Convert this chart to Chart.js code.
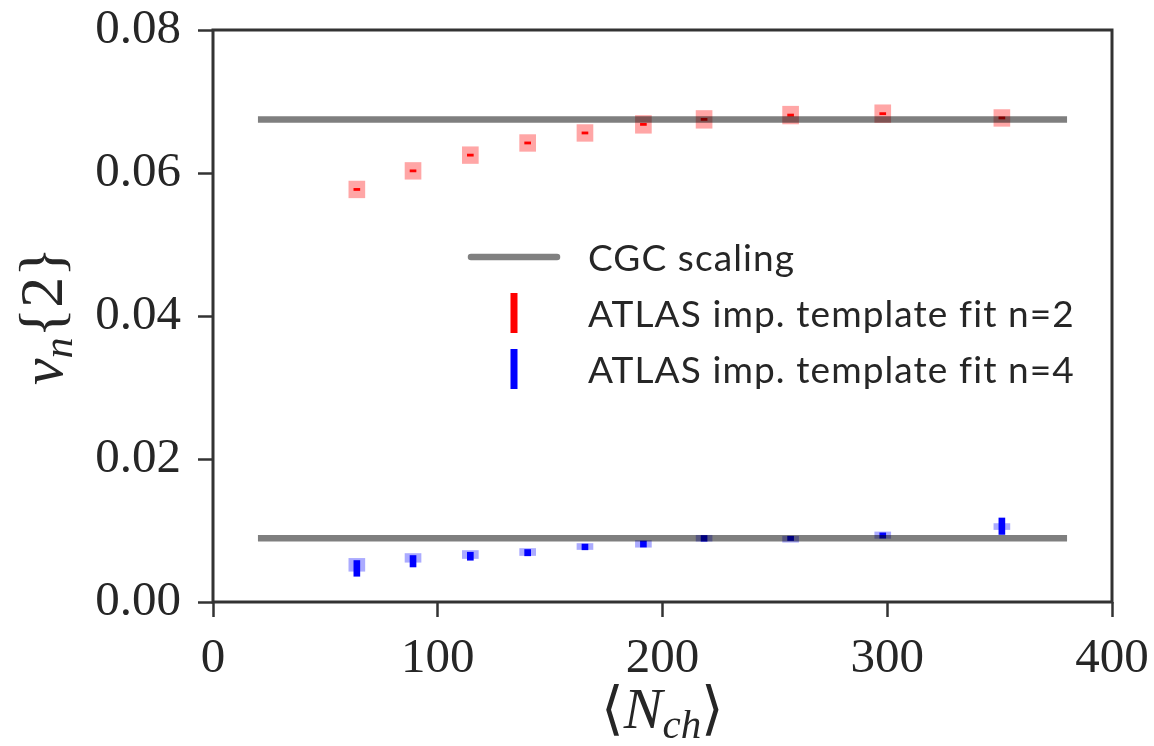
<!DOCTYPE html>
<html>
<head>
<meta charset="utf-8">
<script src="https://cdn.jsdelivr.net/npm/chart.js@4.4.1/dist/chart.umd.min.js"></script>
<style>
  html, body { margin: 0; padding: 0; background: #fff; }
</style>
</head>
<body>
<canvas id="vn-chart" width="1154" height="746"></canvas>
<script>
// <N_ch> bins
const nch = [64, 89, 114.5, 140, 165.5, 191.5, 218.5, 257, 298, 351];

// v2{2}: value, statistical error, systematic error
const v2 = [0.0577, 0.0603, 0.0625, 0.0642, 0.0656, 0.0668, 0.0675, 0.0681, 0.0683, 0.0677];
const v2Stat = [0.00015, 0.00015, 0.00015, 0.00015, 0.00015, 0.00015, 0.00015, 0.00015, 0.00015, 0.00015];
const v2Sys = [0.00117, 0.00117, 0.00117, 0.00117, 0.00117, 0.00124, 0.00124, 0.00124, 0.00124, 0.00117];

// v4{2}: value, statistical error, systematic error (down / up)
const v4 = [0.0047, 0.0057, 0.0064, 0.0069, 0.0077, 0.0081, 0.0089, 0.0089, 0.0093, 0.0106];
const v4Stat = [0.0011, 0.0008, 0.00056, 0.00044, 0.0004, 0.00042, 0.0004, 0.0003, 0.00037, 0.00115];
const v4SysDn = [0.0004, 0.00014, 0.00032, 0.0004, 0.00036, 0.00044, 0.0004, 0.00054, 0.0004, 0.00047];
const v4SysUp = [0.0014, 0.00108, 0.0008, 0.00058, 0.00048, 0.0005, 0.00043, 0.0003, 0.0005, 0.00037];

// CGC scaling lines
const cgcX = [20, 380];
const cgcV2 = 0.0675;
const cgcV4 = 0.0089;

const xTicks = [0, 100, 200, 300, 400];
const yTicks = [0, 0.02, 0.04, 0.06, 0.08];

const tickFont = { family: "'Liberation Serif', serif", size: 49 };
const frameColor = "#333333";
const textColor = "#262626";

function band(vals, dn, up) {
    return nch.map((x, i) => ({ x: x, y: [vals[i] - dn[i], vals[i] + up[i]] }));
}

// keep tick labels from pushing the plot area around
function noOverflow(s) {
    s.paddingTop = 0;
    s.paddingBottom = 0;
    s.paddingLeft = 0;
    s.paddingRight = 0;
}

// frame, axis titles and the in-plot legend
const decorations = {
    id: "decorations",
    afterDatasetsDraw(chart) {
        const ctx = chart.ctx;
        const a = chart.chartArea;
        ctx.save();

        ctx.strokeStyle = frameColor;
        ctx.lineWidth = 3;
        ctx.strokeRect(a.left, a.top, a.right - a.left, a.bottom - a.top);

        // legend
        const x0 = a.left + 258, x1 = a.left + 344, tx = a.left + 375;
        let y = a.top + 227;
        ctx.font = "37px Lato";
        ctx.letterSpacing = "1.1px";
        ctx.textBaseline = "middle";
        ctx.textAlign = "left";
        chart.data.datasets.filter(ds => ds.inLegend).forEach(ds => {
            if (ds.type === "line") {
                ctx.strokeStyle = "#808080";
                ctx.lineWidth = 6.5;
                ctx.lineCap = "round";
                ctx.beginPath();
                ctx.moveTo(x0, y);
                ctx.lineTo(x1, y);
                ctx.stroke();
            } else {
                ctx.fillStyle = ds.backgroundColor;
                ctx.fillRect((x0 + x1) / 2 - 3.5, y - 20, 7, 40);
            }
            ctx.fillStyle = textColor;
            ctx.fillText(ds.label, tx, y + 2);
            y += 56;
        });
        ctx.letterSpacing = "0px";

        // axis titles
        const serif = "'Liberation Serif', serif";
        drawMath(ctx, [
            { t: "\u27E8", f: "58px " + serif, dy: 0 },
            { t: "N", f: "italic 58px " + serif, dy: 0 },
            { t: "ch", f: "italic 41px " + serif, dy: 10 },
            { t: "\u27E9", f: "58px " + serif, dy: 0 }
        ], (a.left + a.right) / 2, 728, 0);
        drawMath(ctx, [
            { t: "v", f: "italic 60px " + serif, dy: 0 },
            { t: "n", f: "italic 42px " + serif, dy: 10 },
            { t: "{2}", f: "62px " + serif, dy: 0 }
        ], 62, (a.top + a.bottom) / 2, -Math.PI / 2);

        ctx.restore();
    }
};

function drawMath(ctx, parts, cx, cy, angle) {
    ctx.save();
    ctx.translate(cx, cy);
    ctx.rotate(angle);
    ctx.fillStyle = textColor;
    ctx.textBaseline = "alphabetic";
    ctx.textAlign = "left";
    let w = 0;
    parts.forEach(p => { ctx.font = p.f; p.w = ctx.measureText(p.t).width; w += p.w; });
    let x = -w / 2;
    parts.forEach(p => {
        ctx.font = p.f;
        ctx.fillText(p.t, x, p.dy);
        x += p.w;
    });
    ctx.restore();
}

const ctx = document.getElementById("vn-chart").getContext("2d");

new Chart(ctx, {
    type: "bar",
    data: {
        datasets: [
            {
                type: "line", label: "CGC scaling", inLegend: true,
                data: cgcX.map(x => ({ x: x, y: cgcV2 })),
                borderColor: "rgba(0,0,0,0.5)", borderWidth: 6.5, pointRadius: 0, order: 0
            },
            {
                type: "line", label: "CGC scaling",
                data: cgcX.map(x => ({ x: x, y: cgcV4 })),
                borderColor: "rgba(0,0,0,0.5)", borderWidth: 6.5, pointRadius: 0, order: 0
            },
            {
                label: "sys n=2", data: band(v2, v2Sys, v2Sys),
                backgroundColor: "rgba(255,0,0,0.35)", barThickness: 16, grouped: false, order: 3
            },
            {
                label: "sys n=4", data: band(v4, v4SysDn, v4SysUp),
                backgroundColor: "rgba(0,0,255,0.33)", barThickness: 16, grouped: false, order: 3
            },
            {
                label: "ATLAS imp. template fit n=2", inLegend: true, data: band(v2, v2Stat, v2Stat),
                backgroundColor: "#ff0000", barThickness: 6, minBarLength: 2, grouped: false, order: 2
            },
            {
                label: "ATLAS imp. template fit n=4", inLegend: true, data: band(v4, v4Stat, v4Stat),
                backgroundColor: "#0000ff", barThickness: 6, minBarLength: 2, grouped: false, order: 2
            }
        ]
    },
    options: {
        responsive: false,
        animation: false,
        events: [],
        layout: { padding: { top: 30, right: 42, left: 0, bottom: 0 } },
        plugins: { legend: { display: false }, tooltip: { enabled: false } },
        scales: {
            x: {
                type: "linear", min: 0, max: 400, offset: false,
                afterBuildTicks: s => { s.ticks = xTicks.map(v => ({ value: v })); },
                afterFit: s => { s.height = 144; noOverflow(s); },
                border: { display: false },
                grid: { offset: false, drawOnChartArea: false, tickLength: 15, tickWidth: 2.5, tickColor: frameColor },
                ticks: { font: tickFont, color: textColor, padding: 13, maxRotation: 0 }
            },
            y: {
                min: 0, max: 0.08,
                afterBuildTicks: s => { s.ticks = yTicks.map(v => ({ value: v })); },
                afterFit: s => { s.width = 213; noOverflow(s); },
                border: { display: false },
                grid: { drawOnChartArea: false, tickLength: 15, tickWidth: 2.5, tickColor: frameColor },
                ticks: { font: tickFont, color: textColor, padding: 17, callback: v => v.toFixed(2) }
            }
        }
    },
    plugins: [decorations]
});
</script>
</body>
</html>
